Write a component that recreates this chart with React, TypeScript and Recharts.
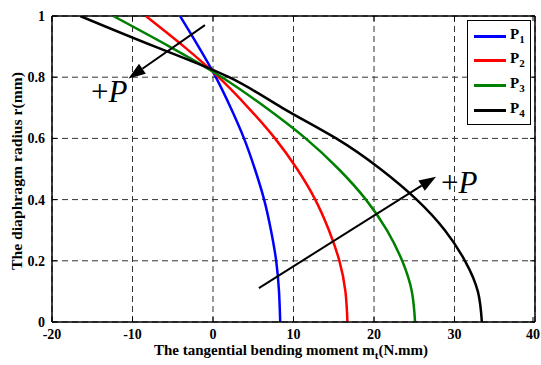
import React from "react";
import {
  LineChart,
  Line,
  XAxis,
  YAxis,
  CartesianGrid,
  ReferenceLine,
} from "recharts";

// radius samples (mm) and the tangential moment read for each load
const radius = [0, 0.1, 0.2, 0.3, 0.4, 0.5, 0.6, 0.7, 0.8, 0.9, 1.0];
const p1 = [8.35, 8.2, 7.85, 7.2, 6.35, 5.2, 3.85, 2.2, 0.35, -1.8, -4.1];
const p2 = [16.7, 16.45, 15.7, 14.4, 12.7, 10.45, 7.7, 4.4, 0.7, -3.6, -8.35];
const p3 = [25.1, 24.7, 23.5, 21.6, 19.0, 15.6, 11.5, 6.6, 1.1, -5.4, -12.4];
const p4 = [33.4, 32.9, 31.3, 28.8, 25.3, 20.8, 15.3, 8.6, 2.0, -7.2, -16.5];

const seriesNames = ["1", "2", "3", "4"];
const seriesColors = ["#0000ff", "#ff0000", "#008000", "#000000"];
const seriesValues = [p1, p2, p3, p4];

const xTicks = [-20, -10, 0, 10, 20, 30, 40];
const yTicks = [0, 0.2, 0.4, 0.6, 0.8, 1];

// arrows marking the load direction: start, tip
const arrowIn = [
  { x: -1.0, y: 0.97 },
  { x: -10.5, y: 0.796 },
];
const arrowOut = [
  { x: 5.7, y: 0.111 },
  { x: 27.7, y: 0.475 },
];

const series = seriesValues.map((vals) =>
  vals.map((v, i) => ({ x: v, r: radius[i] }))
);

const W = 541;
const H = 365;
const LEFT = 52;
const RIGHT = 535;
const TOP = 16;
const BOTTOM = 322;

const font = "'Liberation Serif', 'Times New Roman', serif";

const XTick = ({ x, payload }: any) => (
  <g>
    <line x1={x} x2={x} y1={BOTTOM} y2={BOTTOM - 5} stroke="#000" />
    <line x1={x} x2={x} y1={TOP} y2={TOP + 5} stroke="#000" />
    <text
      x={x}
      y={339}
      textAnchor="middle"
      fontFamily={font}
      fontWeight="bold"
      fontSize={14}
      fill="#000"
    >
      {payload.value}
    </text>
  </g>
);

const YTick = ({ x, y, payload }: any) => (
  <g>
    <line x1={LEFT} x2={LEFT + 5} y1={y} y2={y} stroke="#000" />
    <line x1={RIGHT} x2={RIGHT - 5} y1={y} y2={y} stroke="#000" />
    <text
      x={x}
      y={y}
      dy={5}
      textAnchor="end"
      fontFamily={font}
      fontWeight="bold"
      fontSize={14}
      fill="#000"
    >
      {payload.value}
    </text>
  </g>
);

const XLabel = () => (
  <text
    x={291}
    y={355}
    textAnchor="middle"
    fontFamily={font}
    fontWeight="bold"
    fontSize={15}
    fill="#000"
  >
    The tangential bending moment m
    <tspan dy={4} fontSize={11}>
      t
    </tspan>
    <tspan dy={-4}>(N.mm)</tspan>
  </text>
);

const YLabel = () => (
  <text
    x={0}
    y={0}
    transform="translate(22,171) rotate(-90)"
    textAnchor="middle"
    fontFamily={font}
    fontWeight="bold"
    fontSize={15}
    textLength={198}
    lengthAdjust="spacingAndGlyphs"
    fill="#000"
  >
    The diaphragm radius r(mm)
  </text>
);

const makeArrow =
  (side: "left" | "right") =>
  ({ x1, y1, x2, y2 }: any) => {
    const ang = Math.atan2(y2 - y1, x2 - x1);
    const len = 17;
    const half = 6;
    const bx = x2 - len * Math.cos(ang);
    const by = y2 - len * Math.sin(ang);
    const px = -Math.sin(ang) * half;
    const py = Math.cos(ang) * half;
    const tx = side === "left" ? x2 - 1 : x2 + 5;
    const ty = side === "left" ? y2 + 24 : y2 + 16;
    return (
      <g>
        <line x1={x1} y1={y1} x2={bx} y2={by} stroke="#000" strokeWidth={2} />
        <polygon
          points={`${x2},${y2} ${bx + px},${by + py} ${bx - px},${by - py}`}
          fill="#000"
        />
        <text
          x={tx}
          y={ty}
          textAnchor={side === "left" ? "end" : "start"}
          fontFamily={font}
          fontSize={31}
          fill="#000"
        >
          +<tspan fontStyle="italic">P</tspan>
        </text>
      </g>
    );
  };

export default function App() {
  return (
    <div
      style={{
        position: "absolute",
        left: 0,
        top: 0,
        width: W,
        height: H,
        background: "#fff",
      }}
    >
      <LineChart
        width={W}
        height={H}
        margin={{ top: TOP, right: W - RIGHT, left: 0, bottom: 0 }}
      >
        <CartesianGrid
          stroke="#333"
          strokeDasharray="6 4"
          horizontalValues={yTicks}
          verticalValues={xTicks}
        />
        <XAxis
          type="number"
          dataKey="x"
          domain={[-20, 40]}
          ticks={xTicks}
          allowDataOverflow
          height={H - BOTTOM}
          tickSize={0}
          tickMargin={8}
          tick={<XTick />}
          axisLine={{ stroke: "#000", strokeWidth: 1.5 }}
          label={<XLabel />}
        />
        <YAxis
          type="number"
          dataKey="r"
          domain={[0, 1]}
          ticks={yTicks}
          allowDataOverflow
          width={LEFT}
          tickSize={0}
          tickMargin={7}
          tick={<YTick />}
          axisLine={{ stroke: "#000", strokeWidth: 1.5 }}
          label={<YLabel />}
        />
        <ReferenceLine x={40} stroke="#000" strokeWidth={1.5} />
        <ReferenceLine y={1} stroke="#000" strokeWidth={1.5} />
        {series.map((d, i) => (
          <Line
            key={seriesNames[i]}
            data={d}
            dataKey="r"
            type="natural"
            stroke={seriesColors[i]}
            strokeWidth={2.5}
            dot={false}
            isAnimationActive={false}
          />
        ))}
        <ReferenceLine segment={arrowIn} shape={makeArrow("left")} />
        <ReferenceLine segment={arrowOut} shape={makeArrow("right")} />
      </LineChart>
      <div
        style={{
          position: "absolute",
          left: 467,
          top: 20,
          width: 62,
          height: 103,
          border: "1px solid #000",
          background: "#fff",
          fontFamily: font,
          fontWeight: "bold",
          fontSize: 15,
        }}
      >
        {seriesNames.map((n, i) => (
          <div
            key={n}
            style={{
              position: "absolute",
              left: 6,
              top: 6 + i * 24.8,
              height: 18,
              display: "flex",
              alignItems: "center",
            }}
          >
            <span
              style={{
                display: "inline-block",
                width: 32,
                height: 3,
                background: seriesColors[i],
              }}
            />
            <span style={{ marginLeft: 4, lineHeight: "18px" }}>
              P<sub style={{ fontSize: 11, verticalAlign: -4 }}>{n}</sub>
            </span>
          </div>
        ))}
      </div>
    </div>
  );
}
